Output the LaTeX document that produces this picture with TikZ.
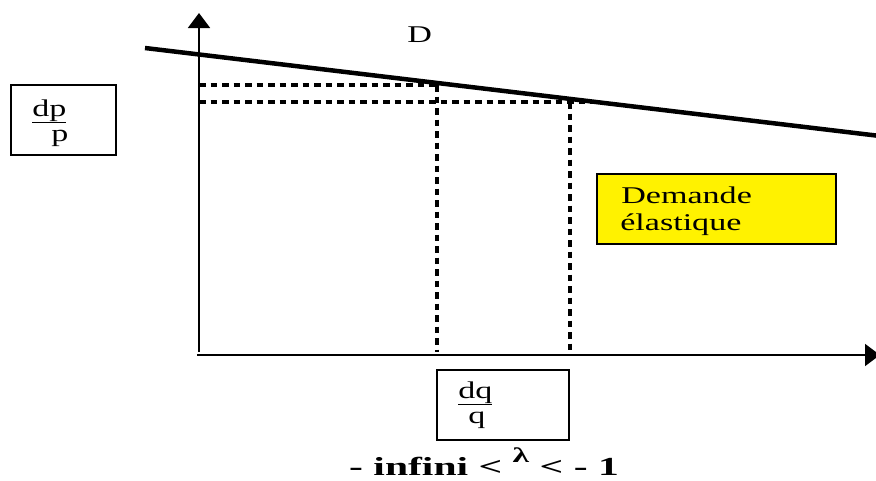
\documentclass[tikz,border=0pt]{standalone}
\usepackage{fontspec}
\setmainfont{Liberation Serif}
\usetikzlibrary{arrows.meta}
\begin{document}
\begin{tikzpicture}[x=1pt,y=-1pt,
  axis/.style={line width=1.8pt,-{Triangle[width=22pt,length=15pt]}},
  dotline/.style={line width=4pt,dash pattern=on 6.5pt off 5pt},
  demline/.style={line width=4.5pt},
  boxline/.style={draw,line width=1.3pt,inner sep=0pt},
  lbl/.style={font=\fontsize{24}{26}\selectfont,xscale=1.42,inner sep=0pt}]
\useasboundingbox (0,0) rectangle (876,480);
% axes
\coordinate (o) at (197,355);
\coordinate (ytop) at (199,13);
\coordinate (xend) at (880,355);
\draw[axis] (199,352) -- (ytop);
\draw[axis] (o) -- (xend);
% demand line
\coordinate (d1) at (145,48);
\coordinate (d2) at (880,136);
\draw[demline] (d1) -- (d2);
\node[lbl,anchor=base west] (D) at (407,42) {D};
% dotted lines
\coordinate (h1a) at (199,85);
\coordinate (h1b) at (437,85);
\coordinate (h2a) at (199,102);
\coordinate (h2b) at (592,102);
\coordinate (v1b) at (437,352);
\coordinate (v2a) at (570,102);
\coordinate (v2b) at (570,352);
\draw[dotline] (h1a) -- (h1b);
\draw[dotline] (h2a) -- (h2b);
\draw[dotline] (h1b) -- (v1b);
\draw[dotline] (v2a) -- (v2b);
% boxes
\node[boxline,minimum width=105pt,minimum height=70pt] (dpbox) at (63.5,120) {};
\node[lbl,anchor=base west] (dp) at (32,116) {\underline{dp}};
\node[lbl,anchor=base west] (p) at (51,141) {p};
\node[boxline,minimum width=132pt,minimum height=70pt] (dqbox) at (503,405) {};
\node[lbl,anchor=base west] (dq) at (458,398) {\underline{dq}};
\node[lbl,anchor=base west] (q) at (468,423) {q};
\node[boxline,fill=yellow,minimum width=239pt,minimum height=70pt] (elbox) at (716.5,209) {};
\node[lbl,anchor=base west] (el1) at (621,203) {Demande};
\node[lbl,anchor=base west] (el2) at (620,230) {élastique};
% bottom text
\node[font=\bfseries\fontsize{26}{28}\selectfont,xscale=1.6,inner sep=0pt,anchor=base] (ineq) at (484,475) {- infini < \raisebox{13pt}{\fontsize{21}{22}\selectfont λ} < - 1};
\end{tikzpicture}
\end{document}
